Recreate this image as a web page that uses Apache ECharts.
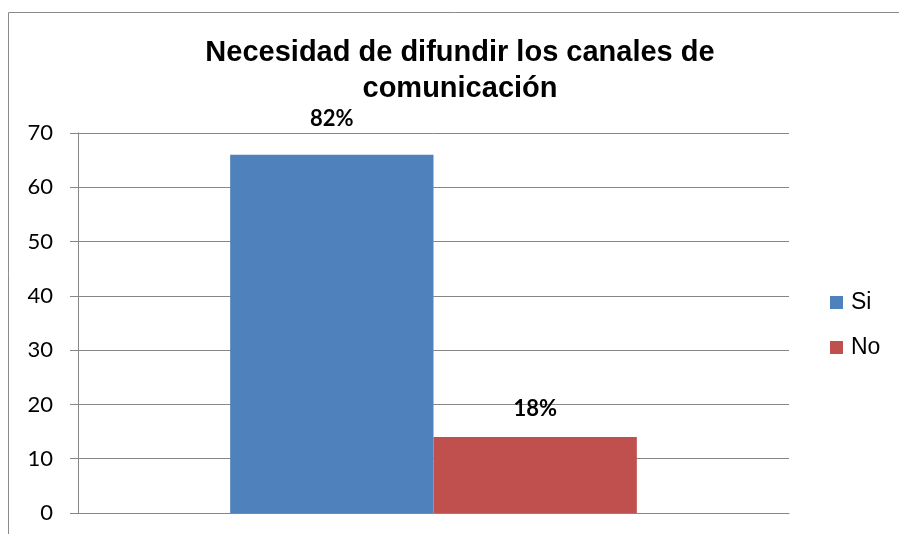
<!DOCTYPE html>
<html><head><meta charset="utf-8">
<script src="https://cdn.jsdelivr.net/npm/echarts@6/dist/echarts.min.js"></script>
<style>html,body{margin:0;padding:0;background:#fff}#c{width:899px;height:534px}</style>
</head><body><div id="c"></div>
<script>
const titleLines = ['Necesidad de difundir los canales de', 'comunicación'];
const categories = [''];
const seriesNames = ['Si', 'No'];
const siValues = [66];
const noValues = [14];
const pctLabels = ['82%', '18%'];
const yTicks = {min: 0, max: 70, interval: 10};
const colors = ['#4F81BD', '#C0504D'];

const chart = echarts.init(document.getElementById('c'));
const labelStyle = (txt, dist) => ({
  show: true, position: 'top', distance: dist, formatter: txt,
  fontFamily: 'Lato', fontWeight: 'bold', fontSize: 22, color: '#000'
});
chart.setOption({
  animation: false,
  backgroundColor: '#fff',
  title: {
    text: titleLines.join('\n'),
    left: 455, top: 30, textAlign: 'center',
    textStyle: {fontFamily: 'Liberation Sans', fontWeight: 'bold', fontSize: 29, lineHeight: 36, color: '#000'}
  },
  graphic: [{type: 'rect', silent: true, shape: {x: 8.5, y: 12.5, width: 1000, height: 1000},
    style: {fill: 'none', stroke: '#8a8a8a', lineWidth: 1}}],
  legend: {
    orient: 'vertical', left: 830, top: 291, padding: 0, itemWidth: 13, itemHeight: 13, itemGap: 22,
    icon: 'rect',
    textStyle: {fontFamily: 'Liberation Sans', fontSize: 23, color: '#000', padding: [0, 0, 0, 3]},
    data: seriesNames
  },
  grid: {left: 78, right: 110, top: 133, bottom: 21, containLabel: false},
  xAxis: {
    type: 'category', data: categories,
    axisLine: {show: true, lineStyle: {color: '#868686', width: 1}},
    axisTick: {show: false}, axisLabel: {show: false}
  },
  yAxis: {
    type: 'value', min: yTicks.min, max: yTicks.max, interval: yTicks.interval,
    axisLine: {show: true, lineStyle: {color: '#868686', width: 1}},
    axisTick: {show: true, inside: false, length: 8, lineStyle: {color: '#868686'}},
    axisLabel: {fontFamily: 'Lato', fontSize: 22, color: '#000', margin: 25},
    splitLine: {show: true, lineStyle: {color: '#868686', width: 1}}
  },
  series: [
    {name: seriesNames[0], type: 'bar', data: siValues, barGap: '0%', barCategoryGap: '42.8%',
     itemStyle: {color: colors[0]}, label: labelStyle(pctLabels[0], 25)},
    {name: seriesNames[1], type: 'bar', data: noValues, barGap: '0%', barCategoryGap: '42.8%',
     itemStyle: {color: colors[1]}, label: labelStyle(pctLabels[1], 17)}
  ]
});
</script></body></html>
